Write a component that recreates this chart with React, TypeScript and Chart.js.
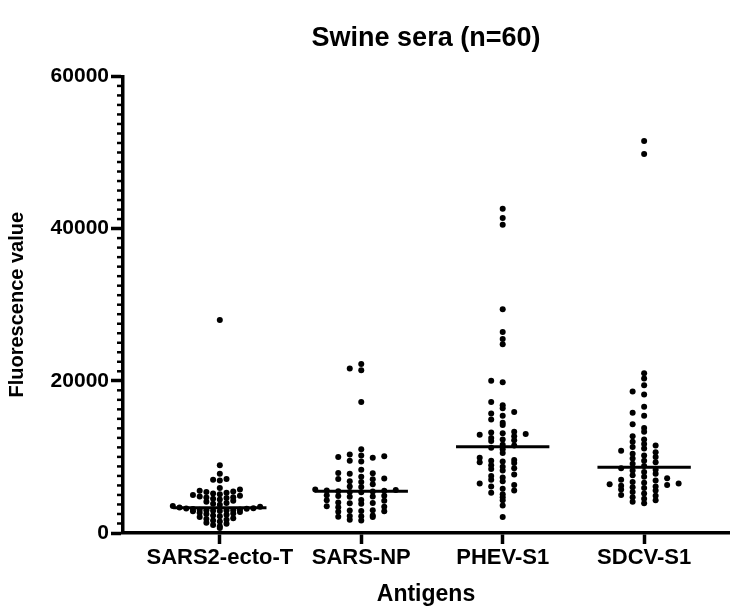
import React, { useEffect, useRef } from "react";
import { Chart, registerables } from "chart.js";

Chart.register(...registerables);

const chartTitle = "Swine sera (n=60)";
const xTitle = "Antigens";
const yTitle = "Fluorescence value";
const categories = ["SARS2-ecto-T", "SARS-NP", "PHEV-S1", "SDCV-S1"];
const yTickValues = [0, 20000, 40000, 60000];
const yMinorStep = 1250;
const yMax = 60000;

const sars2Ecto = [
  650,
  900, 1050, 1200, 1350,
  1500, 1650, 1750, 1850, 1950, 2100,
  2200, 2300, 2400, 2500, 2550, 2650, 2750, 2850,
  2900, 2920, 2950, 2980, 3000, 3050, 3100, 3150, 3200, 3230, 3260, 3350, 3450, 3550,
  3700, 3850, 3950, 4100, 4250,
  4400, 4500, 4600, 4650, 4700, 4800, 4900, 5000,
  5100, 5200, 5300, 5400, 5450, 5550, 5700,
  5900, 6900, 7000, 7100, 7800, 8900, 28000,
];

const sarsNP = [
  1650, 1750,
  2100, 2150, 2200, 2250, 2300,
  2800, 2850, 2900, 2950, 3000,
  3400, 3450, 3500,
  3850, 3900, 3950, 4000,
  4250, 4300, 4350,
  4750, 4800, 4850, 4900, 4950,
  5350, 5400, 5450, 5500, 5550, 5600, 5650, 5700,
  6050, 6100, 6400,
  6700, 6800, 7050, 7100, 7150, 7400,
  7800, 7850, 7900, 8300,
  9400, 9500, 9900, 10000, 10100, 10200, 10300, 11000,
  17200, 21400, 21600, 22200,
];

const phevS1 = [
  2100, 3600, 4300, 4700,
  5100, 5300, 5600, 5800,
  6100, 6300, 6500, 6800,
  7000, 7300, 7500, 7700,
  8200, 8400, 8500, 8700, 8900,
  9200, 9300, 9400, 9500, 9600, 9900,
  10500, 11000, 11200, 11500, 11600,
  12100, 12200, 12300, 12500, 12700, 12900, 13000, 13100, 13200, 13300,
  14200, 14500, 14900, 15400, 15700, 15900,
  16400, 16800, 17200,
  19800, 20000, 24800, 25500, 26400, 29400, 40500, 41400, 42600,
];

const sdcvS1 = [
  3900, 4100, 4300, 4500, 4700, 4900,
  5000, 5200, 5400, 5600, 5700, 5900,
  6000, 6100, 6200, 6300, 6400, 6500, 6600, 6700, 6900,
  7000, 7200, 7400, 7600, 7800,
  8000, 8200, 8300, 8500, 8800,
  9100, 9300, 9500, 9800,
  10000, 10200, 10400, 10600, 10800,
  11100, 11300, 11500, 11700, 12000, 12300, 12700,
  13300, 13800, 14300, 15400, 15800, 16600,
  18200, 18600, 19400, 20300, 21000, 49800, 51500,
];

const seriesList = [sars2Ecto, sarsNP, phevS1, sdcvS1];

const FONT = "'Liberation Sans', Arial, Helvetica, sans-serif";

function median(vals: number[]): number {
  const s = [...vals].sort((a, b) => a - b);
  const n = s.length;
  return n % 2 ? s[(n - 1) / 2] : (s[n / 2 - 1] + s[n / 2]) / 2;
}

function swarmOffsets(
  vals: number[],
  toPx: (v: number) => number,
  binPx: number,
  halfWidth: number,
  maxSpacing: number
): number[] {
  const base = toPx(0);
  const bins = new Map<number, number[]>();
  vals.forEach((v, i) => {
    const b = Math.floor((base - toPx(v)) / binPx);
    if (!bins.has(b)) bins.set(b, []);
    bins.get(b)!.push(i);
  });
  let maxCount = 1;
  bins.forEach((a) => (maxCount = Math.max(maxCount, a.length)));
  const halfCols = Math.ceil((maxCount - 1) / 2);
  const spacing = halfCols > 0 ? Math.min(maxSpacing, halfWidth / halfCols) : maxSpacing;
  const off = new Array(vals.length).fill(0);
  bins.forEach((idx) => {
    idx.sort((a, b) => vals[a] - vals[b]);
    idx.forEach((i, k) => {
      const col = k === 0 ? 0 : k % 2 === 1 ? -Math.ceil(k / 2) : k / 2;
      off[i] = col * spacing;
    });
  });
  return off;
}

const minorTicksPlugin = {
  id: "minorTicks",
  afterDraw(chart: any) {
    const y = chart.scales.y;
    const ctx = chart.ctx;
    const x0 = chart.chartArea.left;
    ctx.save();
    ctx.strokeStyle = "#000";
    ctx.lineWidth = 2.5;
    for (let v = 0; v <= yMax; v += yMinorStep) {
      if (v % 20000 === 0) continue;
      const py = y.getPixelForValue(v);
      ctx.beginPath();
      ctx.moveTo(x0 - 6, py);
      ctx.lineTo(x0, py);
      ctx.stroke();
    }
    ctx.restore();
  },
};

export default function App() {
  const ref = useRef<HTMLCanvasElement | null>(null);

  useEffect(() => {
    if (!ref.current) return;
    const halfLine = 0.33;
    const pointSets = seriesList.map((vals, ci) => ({
      type: "scatter" as const,
      data: vals.map((v) => ({ x: ci, y: v })),
      pointRadius: 3,
      pointHoverRadius: 3,
      pointBackgroundColor: "#000",
      pointBorderWidth: 0,
      showLine: false,
    }));
    const medianSets = seriesList.map((vals, ci) => {
      const m = median(vals);
      return {
        type: "line" as const,
        data: [
          { x: ci - halfLine, y: m },
          { x: ci + halfLine, y: m },
        ],
        borderColor: "#000",
        borderWidth: 3,
        pointRadius: 0,
        fill: false,
      };
    });

    const chart = new Chart(ref.current, {
      type: "scatter",
      data: { datasets: [...pointSets, ...medianSets] as any },
      options: {
        responsive: false,
        animation: false,
        layout: { padding: { left: 0, right: 2, top: 0, bottom: 0 } },
        plugins: {
          legend: { display: false },
          tooltip: { enabled: false },
          title: {
            display: true,
            text: chartTitle,
            fullSize: false,
            color: "#000",
            font: { family: FONT, size: 27, weight: "bold" },
            padding: { top: 22, bottom: 22 },
          },
        },
        scales: {
          x: {
            type: "linear",
            min: -0.6845,
            max: 3.6,
            afterFit: (s: any) => {
              s.height = 78;
            },
            afterBuildTicks: (s: any) => {
              s.ticks = categories.map((_, i) => ({ value: i }));
            },
            ticks: {
              color: "#000",
              font: { family: FONT, size: 22, weight: "bold" },
              padding: 1,
              maxRotation: 0,
              autoSkip: false,
              callback: (v: any) => categories[Math.round(Number(v))] ?? "",
            },
            grid: {
              display: true,
              drawOnChartArea: false,
              drawTicks: true,
              tickLength: 11,
              tickWidth: 3.5,
              tickColor: "#000",
            },
            border: { display: true, width: 3.5, color: "#000" },
            title: {
              display: true,
              text: xTitle,
              color: "#000",
              font: { family: FONT, size: 23, weight: "bold" },
              padding: { top: 0, bottom: 3 },
            },
          },
          y: {
            type: "linear",
            min: 0,
            max: yMax,
            afterFit: (s: any) => {
              s.width = 123;
            },
            afterBuildTicks: (s: any) => {
              s.ticks = yTickValues.map((v) => ({ value: v }));
            },
            ticks: {
              color: "#000",
              font: { family: FONT, size: 21, weight: "bold" },
              padding: 2,
              callback: (v: any) => String(v),
            },
            grid: {
              display: true,
              drawOnChartArea: false,
              drawTicks: true,
              tickLength: 12,
              tickWidth: 3.5,
              tickColor: "#000",
            },
            border: { display: true, width: 3.5, color: "#000" },
            title: {
              display: true,
              text: yTitle,
              color: "#000",
              font: { family: FONT, size: 20, weight: "bold" },
              padding: { top: 5, bottom: 0 },
            },
          },
        },
      } as any,
      plugins: [minorTicksPlugin],
    });

    const xs: any = chart.scales.x;
    const ys: any = chart.scales.y;
    const pxPerUnit = Math.abs(xs.getPixelForValue(1) - xs.getPixelForValue(0));
    seriesList.forEach((vals, ci) => {
      const offs = swarmOffsets(vals, (v) => ys.getPixelForValue(v), 5.5, 47, 11.5);
      (chart.data.datasets[ci] as any).data = vals.map((v, k) => ({
        x: ci + offs[k] / pxPerUnit,
        y: v,
      }));
    });
    chart.update();

    return () => chart.destroy();
  }, []);

  return (
    <div style={{ position: "fixed", left: 0, top: 0, width: 732, height: 611, background: "#fff" }}>
      <canvas ref={ref} width={732} height={611} style={{ display: "block" }} />
    </div>
  );
}
